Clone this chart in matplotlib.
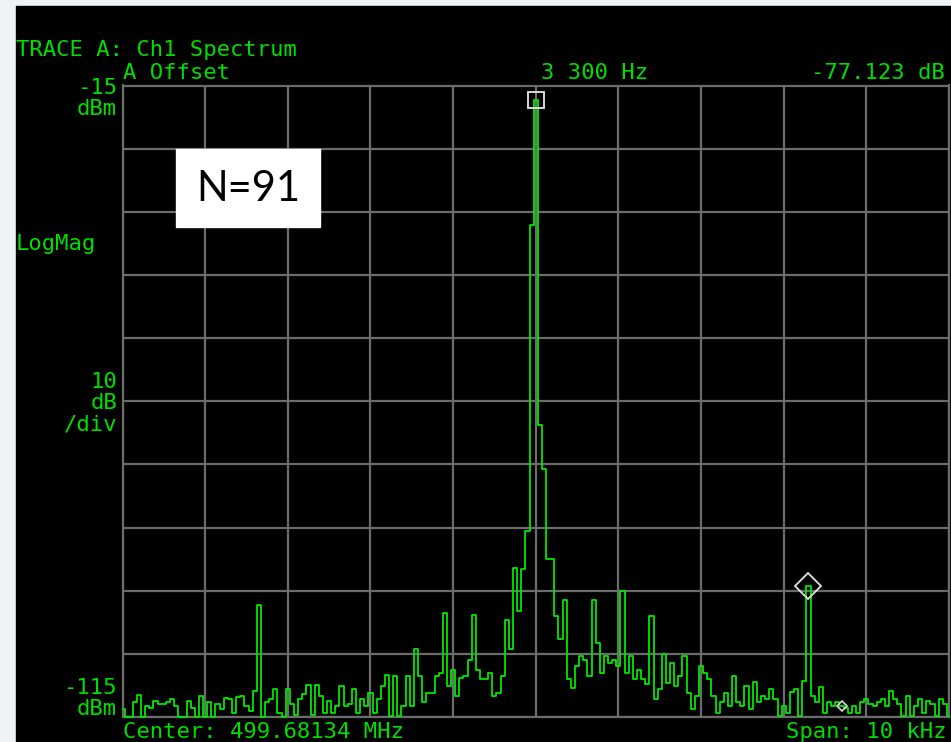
import numpy as np
import matplotlib.pyplot as plt
from matplotlib.patches import Rectangle

# trace, one value per 50 Hz bin, dBm
trace_dbm = [
    -113.8, -115, -115, -112.7, -111.5, -115, -113.3, -113.5, -112.5, -113,
    -113, -112.7, -112.2, -113.2, -115, -115, -112.5, -113.5, -115, -111.7,
    -115, -112.7, -115, -113, -113.8, -112, -112.2, -114.3, -111.8, -111.7,
    -113.2, -114, -110.9, -97.2, -115, -112.7, -112.2, -110.5, -114.3, -115,
    -110.5, -113, -114.7, -112.2, -111.4, -110, -114.7, -110, -111.7, -114.3,
    -112.5, -114.3, -113.3, -110.1, -113.3, -113, -110.6, -114.3, -112.2, -113.3,
    -111.2, -114.3, -112.2, -110.1, -108.3, -114.8, -108.5, -114.8, -113.3, -108.5,
    -113.3, -104.3, -108.5, -112.7, -111.2, -111.2, -108.5, -108, -98.5, -110.1,
    -107.5, -111.7, -108.8, -108.5, -105.9, -98.8, -107.5, -109, -109, -108,
    -111.7, -111.2, -108.5, -99.6, -104.3, -91.4, -98.2, -91.6, -85.6, -37.1,
    -17.3, -68.7, -75.8, -90, -90, -99, -102.7, -96.4, -109, -110.4,
    -106.9, -105.4, -105.9, -108.5, -96.4, -103.3, -108, -105.4, -106.4, -105.9,
    -106.9, -95.1, -108, -105.4, -109, -107.5, -109, -109.8, -99, -112.2,
    -110.6, -105.1, -109.6, -106.4, -110.1, -108.5, -105.4, -111.2, -113.8, -111.7,
    -106.9, -108, -109, -111.7, -114.3, -112.7, -111.2, -113.3, -108.5, -112.7,
    -113.3, -110.1, -113.8, -109.5, -112.7, -111.6, -112.2, -110.6, -112.2, -114.8,
    -113.2, -114.3, -111.1, -110.6, -114.8, -109.3, -94.3, -111.6, -112.7, -110.3,
    -114.3, -112.7, -113.2, -112.7, -113.2, -113.5, -114.3, -113.2, -114.3, -112.7,
    -112.2, -113, -113.2, -112.7, -112.2, -113.2, -110.9, -112.2, -113, -114.8,
    -111.6, -114.8, -113.2, -112.2, -114.3, -112.4, -113, -114.8, -112.2, -113,
    -114.8,
]
span_hz = 10000
freq_hz = np.linspace(-span_hz / 2, span_hz / 2, len(trace_dbm))

ref_top = -15
ref_bottom = -115
marker_main = (0, -17.3)
marker_delta = (3300, -94.3)
marker_small = (3700, -113.3)

W, H = 951, 742
GREEN = '#00dd00'
TRACE = '#00e600'
GRID = '#6c6c6c'


def px(x, y):
    return x / W, 1 - y / H


fig = plt.figure(figsize=(W / 100, H / 100), dpi=100, facecolor='#eef3f8')
fig.add_artist(Rectangle(px(16, H), 1, 1 - 6 / H, transform=fig.transFigure,
                         color='black', zorder=-5))

x0, x1, y0, y1 = 122.5, 949, 85.5, 717
ax = fig.add_axes([x0 / W, 1 - y1 / H, (x1 - x0) / W, (y1 - y0) / H])
ax.set_facecolor('black')
ax.set_xlim(-span_hz / 2, span_hz / 2)
ax.set_ylim(ref_bottom, ref_top)
ax.set_xticks(np.arange(-5000, 5001, 1000))
ax.set_yticks(np.arange(ref_bottom, ref_top + 1, 10))
ax.grid(True, color=GRID, lw=1.6)
ax.tick_params(length=0, labelbottom=False, labelleft=False)
for s in ax.spines.values():
    s.set_color(GRID)
    s.set_linewidth(1.6)

ax.plot(freq_hz, trace_dbm, color=TRACE, lw=1.3, drawstyle='steps-mid',
        clip_on=False, zorder=3)

ax.plot(*marker_main, marker='s', ms=12.2, mfc='none', mec='#d8d8d8', mew=1.4,
        zorder=4, clip_on=False)
ax.plot(*marker_delta, marker='D', ms=13.5, mfc='none', mec='#d8d8d8', mew=1.4,
        zorder=4)
ax.plot(*marker_small, marker='D', ms=5, mfc='none', mec='#d8d8d8', mew=1.2,
        zorder=4)

crt = dict(color=GREEN, family='DejaVu Sans Mono', fontsize=16)
fig.text(*px(16, 56), 'TRACE A: Ch1 Spectrum', ha='left', va='baseline', **crt)
fig.text(*px(123, 79), 'A Offset', ha='left', va='baseline', **crt)
fig.text(*px(541, 79), '3 300 Hz', ha='left', va='baseline', **crt)
fig.text(*px(945, 79), '-77.123 dB', ha='right', va='baseline', **crt)
fig.text(*px(117, 94), '-15', ha='right', va='baseline', **crt)
fig.text(*px(117, 115), 'dBm', ha='right', va='baseline', **crt)
fig.text(*px(16, 250), 'LogMag', ha='left', va='baseline', **crt)
fig.text(*px(117, 388), '10', ha='right', va='baseline', **crt)
fig.text(*px(117, 409), 'dB', ha='right', va='baseline', **crt)
fig.text(*px(117, 430), '/div', ha='right', va='baseline', **crt)
fig.text(*px(117, 694), '-115', ha='right', va='baseline', **crt)
fig.text(*px(117, 715), 'dBm', ha='right', va='baseline', **crt)
fig.text(*px(123, 738), 'Center: 499.68134 MHz', ha='left', va='baseline', **crt)
fig.text(*px(947, 738), 'Span: 10 kHz', ha='right', va='baseline', **crt)

# white label box
fig.add_artist(Rectangle(px(176, 227), 144 / W, 78 / H, transform=fig.transFigure,
                         color='white', zorder=5))
fig.text(*px(248, 189), 'N=91', ha='center', va='center', color='black',
         family='Lato', fontsize=30, zorder=6)

fig.savefig('out.png', dpi=100, facecolor=fig.get_facecolor())
